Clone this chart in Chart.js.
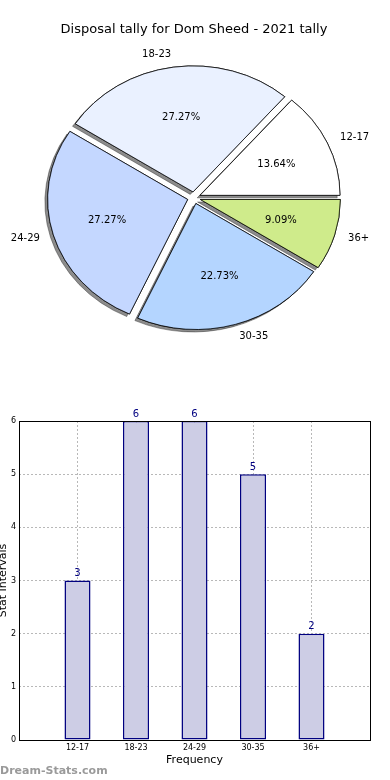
<!DOCTYPE html>
<html>
<head>
<meta charset="utf-8">
<script src="https://cdn.jsdelivr.net/npm/chart.js@4.4.0/dist/chart.umd.min.js"></script>
<style>
  body { margin: 0; background: #fff; width: 390px; height: 780px; overflow: hidden; position: relative; }
  #pie { position: absolute; left: 0; top: 0; }
  #bars { position: absolute; left: 0; top: 396px; }
</style>
</head>
<body>
<canvas id="pie" width="390" height="396"></canvas>
<canvas id="bars" width="390" height="384"></canvas>
<script>
// data
const categories = ['12-17', '18-23', '24-29', '30-35', '36+'];
const tally = [3, 6, 6, 5, 2];
const pieColors = ['#ffffff', '#eaf1ff', '#c4d7ff', '#b4d5ff', '#cfeb8b'];
const yTicks = [0, 1, 2, 3, 4, 5, 6];

const FONT = "'DejaVu Sans', sans-serif";
const SQUASH = 0.9;     // pie is a bit flatter than round
const EXPLODE = 6.6;
const total = tally.reduce((a, b) => a + b, 0);

// pie: drawn clockwise from 3 o'clock, so feed it reversed
const pieLabels = categories.slice().reverse();
const pieValues = tally.slice().reverse();
const pieFill = pieColors.slice().reverse();

const pieDraw = {
  id: 'pieDraw',
  beforeDatasetDraw(chart, args) {
    const ctx = chart.ctx;
    const arcs = args.meta.data;
    const cx = arcs[0].x, cy = arcs[0].y;
    const pass = (shadow) => {
      arcs.forEach(arc => {
        const mid = (arc.startAngle + arc.endAngle) / 2;
        ctx.save();
        if (shadow) {
          ctx.shadowColor = 'rgba(0,0,0,0.45)';
          ctx.shadowOffsetX = -2.8;
          ctx.shadowOffsetY = 2.5;
          ctx.shadowBlur = 0;
        }
        ctx.translate(cx, cy);
        ctx.scale(1, SQUASH);
        ctx.translate(-cx, -cy);
        ctx.translate(Math.cos(mid) * EXPLODE, Math.sin(mid) * EXPLODE);
        arc.draw(ctx);
        ctx.restore();
      });
    };
    pass(true);
    pass(false);
    return false;
  },
  afterDatasetsDraw(chart) {
    const ctx = chart.ctx;
    const arcs = chart.getDatasetMeta(0).data;
    ctx.save();
    ctx.fillStyle = '#000';
    ctx.font = '10px ' + FONT;
    ctx.textBaseline = 'middle';
    arcs.forEach((arc, i) => {
      const mid = (arc.startAngle + arc.endAngle) / 2;
      const c = Math.cos(mid), s = Math.sin(mid);
      const R = arc.outerRadius;
      const lx = arc.x + c * (R * 1.1 + EXPLODE);
      const ly = arc.y + s * (R * 1.1 + EXPLODE) * SQUASH;
      ctx.textAlign = c > 0 ? 'left' : 'right';
      ctx.fillText(pieLabels[i], lx, ly);
      const px = arc.x + c * (R * 0.6 + EXPLODE);
      const py = arc.y + s * (R * 0.6 + EXPLODE) * SQUASH;
      ctx.textAlign = 'center';
      ctx.fillText((pieValues[i] / total * 100).toFixed(2) + '%', px, py);
    });
    ctx.restore();
  }
};

new Chart(document.getElementById('pie'), {
  type: 'pie',
  data: {
    labels: pieLabels,
    datasets: [{
      data: pieValues,
      backgroundColor: pieFill,
      borderColor: '#000',
      borderWidth: 0.8,
      hoverOffset: 0
    }]
  },
  options: {
    responsive: false,
    animation: false,
    rotation: 90,
    radius: 140,
    layout: { padding: { right: 2, bottom: 38 } },
    events: [],
    plugins: {
      legend: { display: false },
      tooltip: { enabled: false },
      title: {
        display: true,
        text: 'Disposal tally for Dom Sheed - 2021 tally',
        color: '#000',
        font: { family: FONT, size: 13, weight: 'normal' },
        padding: { top: 22, bottom: 0 }
      }
    }
  },
  plugins: [pieDraw]
});

// bars: empty slots at both ends so the bars sit one step in from the frame
const barLabels = [''].concat(categories, ['']);
const barValues = [null].concat(tally, [null]);

const barExtras = {
  id: 'barExtras',
  afterDatasetsDraw(chart) {
    const ctx = chart.ctx;
    ctx.save();
    ctx.fillStyle = '#000080';
    ctx.font = '10px ' + FONT;
    ctx.textAlign = 'center';
    ctx.textBaseline = 'bottom';
    chart.getDatasetMeta(0).data.forEach((bar, i) => {
      if (barValues[i] == null) return;
      ctx.fillText(String(barValues[i]), bar.x, bar.y - 2);
    });
    ctx.restore();
  },
  afterDraw(chart) {
    const ctx = chart.ctx;
    const a = chart.chartArea;
    ctx.save();
    ctx.strokeStyle = '#000';
    ctx.lineWidth = 1;
    ctx.strokeRect(Math.round(a.left) + 0.5, Math.round(a.top) + 0.5,
      Math.round(a.right - a.left), Math.round(a.bottom - a.top));
    ctx.fillStyle = '#9a9a9a';
    ctx.font = 'bold 11px ' + FONT;
    ctx.textAlign = 'left';
    ctx.textBaseline = 'middle';
    ctx.fillText('Dream-Stats.com', 0, 375);
    ctx.restore();
  }
};

new Chart(document.getElementById('bars'), {
  type: 'bar',
  data: {
    labels: barLabels,
    datasets: [{
      data: barValues,
      backgroundColor: '#cdcde5',
      borderColor: '#000080',
      borderWidth: 1.5,
      borderSkipped: false,
      barPercentage: 0.445,
      categoryPercentage: 1
    }]
  },
  options: {
    responsive: false,
    animation: false,
    events: [],
    layout: { padding: { top: 25, right: 20, left: 0, bottom: 0 } },
    plugins: {
      legend: { display: false },
      tooltip: { enabled: false }
    },
    scales: {
      x: {
        offset: false,
        z: 1,
        afterFit(scale) { scale.height = 40; },
        grid: { offset: false, color: '#b8b8b8', drawTicks: false },
        border: { display: false, dash: [2, 2] },
        ticks: { color: '#000', font: { family: FONT, size: 8 }, padding: 3, maxRotation: 0, autoSkip: false },
        title: {
          display: true,
          text: 'Frequency',
          color: '#000',
          font: { family: FONT, size: 11 },
          padding: { top: 0, bottom: 13 }
        }
      },
      y: {
        min: 0,
        max: 6,
        afterFit(scale) { scale.width = 19; },
        afterBuildTicks(scale) { scale.ticks = yTicks.map(v => ({ value: v })); },
        grid: { color: '#b8b8b8', drawTicks: false },
        border: { display: false, dash: [2, 2] },
        ticks: { color: '#000', font: { family: FONT, size: 8 }, padding: 3 },
        title: {
          display: true,
          text: 'Stat Intervals',
          color: '#000',
          font: { family: FONT, size: 11 },
          padding: { top: -3, bottom: 0 }
        }
      }
    }
  },
  plugins: [barExtras]
});
</script>
</body>
</html>
